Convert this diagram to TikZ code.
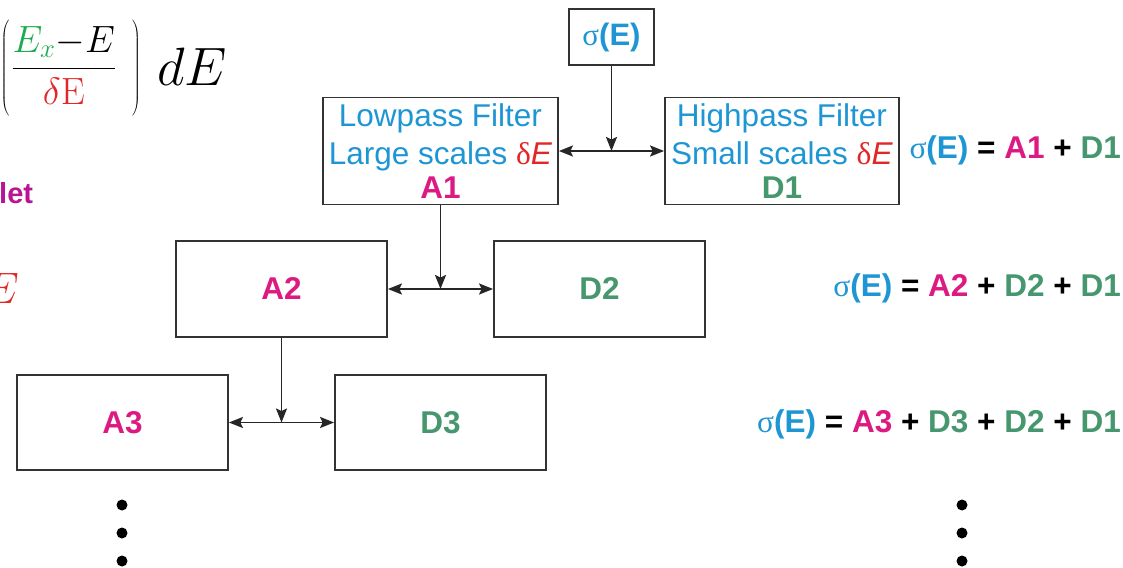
\RequirePackage{fix-cm}
\documentclass[tikz,border=0pt]{standalone}
\usepackage[no-math]{fontspec}
\setmainfont{Liberation Sans}
\newfontfamily\symf{Liberation Serif}
\usetikzlibrary{arrows.meta}
\definecolor{sblue}{RGB}{30,150,212}
\definecolor{amag}{RGB}{220,26,130}
\definecolor{dgreen}{RGB}{70,150,110}
\definecolor{dred}{RGB}{225,40,40}
\definecolor{fgreen}{RGB}{30,170,80}
\definecolor{wpurple}{RGB}{185,20,150}
\newcommand{\sig}{{\symf\textmd{σ}}}
\newcommand{\dE}{\textcolor{dred}{{\symf δ}\textit{E}}}
\begin{document}
\begin{tikzpicture}[x=1pt,y=-1pt,
  blk/.style={draw=black!80, line width=1.8pt, rectangle, inner sep=0pt, align=center},
  conn/.style={line width=1.9pt, draw=black!85},
  tip/.style={-{Stealth[length=14pt,width=11pt,inset=2.5pt]}},
  boxtxt/.style={font=\fontsize{31.5}{38}\selectfont},
  eqtxt/.style={font=\fontsize{31.5}{36}\selectfont\bfseries, anchor=east, inner sep=0pt},
  dot/.style={circle, fill=black, inner sep=0pt, minimum size=11pt}]
\useasboundingbox (0,0) rectangle (1123,567);

% input signal
\node[blk, minimum width=85pt, minimum height=56pt, font=\fontsize{31}{36}\selectfont] (sig) at (611.5,37)
  {\textcolor{sblue}{\sig\textbf{(E)}}};

% first level of the decomposition
\node[blk, boxtxt, minimum width=235pt, minimum height=107pt] (lp) at (440.5,151)
  {\textcolor{sblue}{Lowpass Filter}\\\textcolor{sblue}{Large scales }\dE\\[-4pt]\textcolor{amag}{\textbf{A1}}};
\node[blk, boxtxt, minimum width=234pt, minimum height=107pt] (hp) at (782,151)
  {\textcolor{sblue}{Highpass Filter}\\\textcolor{sblue}{Small scales }\dE\\[-4pt]\textcolor{dgreen}{\textbf{D1}}};

% second and third levels
\node[blk, boxtxt, minimum width=211pt, minimum height=96pt] (a2) at (281.5,289) {\textcolor{amag}{\textbf{A2}}};
\node[blk, boxtxt, minimum width=211pt, minimum height=96pt] (d2) at (599.5,289) {\textcolor{dgreen}{\textbf{D2}}};
\node[blk, boxtxt, minimum width=211pt, minimum height=95pt] (a3) at (122.5,422.5) {\textcolor{amag}{\textbf{A3}}};
\node[blk, boxtxt, minimum width=211pt, minimum height=95pt] (d3) at (440.5,422.5) {\textcolor{dgreen}{\textbf{D3}}};

% splitting junctions
\coordinate (j1) at (sig.south |- lp.east);
\coordinate (j2) at (lp.south |- a2.east);
\coordinate (j3) at (a2.south |- a3.east);

\draw[conn, tip] (sig.south) -- (j1);
\draw[conn, tip] (j1) -- (lp.east);
\draw[conn, tip] (j1) -- (hp.west);
\draw[conn, tip] (lp.south) -- (j2);
\draw[conn, tip] (j2) -- (a2.east);
\draw[conn, tip] (j2) -- (d2.west);
\draw[conn, tip] (a2.south) -- (j3);
\draw[conn, tip] (j3) -- (a3.east);
\draw[conn, tip] (j3) -- (d3.west);

% continuation dots
\foreach \i/\yy in {1/505,2/533,3/561} {
  \node[dot] (ld\i) at (122,\yy) {};
  \node[dot] (rd\i) at (962,\yy) {};
}

% reconstruction sums
\node[eqtxt] (e1) at (1121,150) {\textcolor{sblue}{\sig(E)} = \textcolor{amag}{A1} + \textcolor{dgreen}{D1}};
\node[eqtxt] (e2) at (1121,288) {\textcolor{sblue}{\sig(E)} = \textcolor{amag}{A2} + \textcolor{dgreen}{D2} + \textcolor{dgreen}{D1}};
\node[eqtxt] (e3) at (1121,424) {\textcolor{sblue}{\sig(E)} = \textcolor{amag}{A3} + \textcolor{dgreen}{D3} + \textcolor{dgreen}{D2} + \textcolor{dgreen}{D1}};

% wavelet integral, running off the left edge
\node[anchor=east, inner sep=0pt, font=\fontsize{38}{42}\selectfont] (frm) at (141,68)
  {$\displaystyle\left(\rule[-39pt]{0pt}{98pt}\hspace{2pt}\frac{\textcolor{fgreen}{E_x}{-}E}{\textcolor{dred}{\delta\mathrm{E}}}\hspace{16pt}\right)$};
\node[anchor=base west, inner sep=0pt, font=\fontsize{54}{58}\selectfont] (dint) at (157,86) {$dE$};
\node[anchor=west, inner sep=0pt, font=\fontsize{29}{34}\selectfont\bfseries, text=wpurple] (wl) at (-1,193) {let};
\node[anchor=east, inner sep=0pt, font=\fontsize{44}{48}\selectfont, text=dred] (de) at (19,288) {$E$};
\end{tikzpicture}
\end{document}
